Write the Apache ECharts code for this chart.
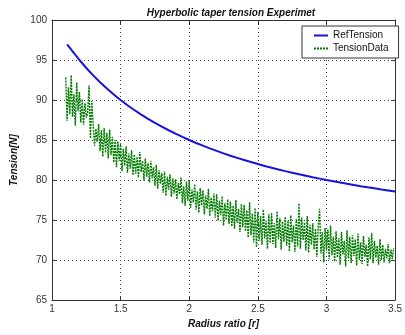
<!DOCTYPE html>
<html>
<head>
<meta charset="utf-8">
<script src="https://cdn.jsdelivr.net/npm/echarts@6/dist/echarts.min.js"></script>
<style>
html,body{margin:0;padding:0;background:#fff;}
#c{width:405px;height:335px;}
</style>
</head>
<body>
<div id="c"></div>
<script>
// Reference tension curve (radius ratio, tension)
var refR = [1.11,1.15,1.2,1.25,1.3,1.35,1.4,1.45,1.5,1.55,1.6,1.65,1.7,1.75,1.8,1.85,1.9,1.95,2.0,2.05,2.1,2.15,2.2,2.25,2.3,2.35,2.4,2.45,2.5,2.55,2.6,2.65,2.7,2.75,2.8,2.85,2.9,2.95,3.0,3.05,3.1,3.15,3.2,3.25,3.3,3.35,3.4,3.45,3.5];
var refT = [96.95,96.09,95.00,94.00,93.08,92.22,91.43,90.69,90.00,89.35,88.75,88.18,87.65,87.14,86.67,86.22,85.79,85.38,85.00,84.63,84.29,83.95,83.64,83.33,83.04,82.77,82.50,82.24,82.00,81.76,81.54,81.32,81.11,80.91,80.71,80.53,80.34,80.17,80.00,79.84,79.68,79.52,79.38,79.23,79.09,78.96,78.82,78.70,78.57];

// Measured tension, sampled every 0.01 in radius ratio from 1.10
var tensionStartR = 1.10;
var tensionStepR = 0.01;
var tensionData = [
92.8,87.4,91.6,88.2,93.1,87.9,90.7,86.8,92.2,88.6,
91.0,87.2,90.1,86.9,89.6,87.8,88.4,91.8,85.2,89.9,
86.9,84.3,86.4,84.8,87.0,83.6,86.2,82.9,86.5,83.4,
85.9,82.7,86.3,83.1,85.4,82.2,85.0,81.6,84.8,82.4,
84.6,81.1,83.9,81.8,84.2,80.9,83.3,81.4,83.7,80.6,
83.2,80.8,82.9,80.3,83.5,81.0,82.4,79.9,82.7,80.4,
82.1,79.7,82.4,80.2,81.6,79.3,81.9,78.9,81.2,79.5,
80.9,78.4,81.1,78.0,80.4,78.8,80.7,77.9,80.2,78.3,
80.1,77.6,79.6,78.2,80.3,77.1,79.2,76.8,79.8,77.4,
79.9,76.5,78.8,77.2,79.5,76.3,78.6,75.9,79.0,76.8,
78.7,75.7,78.1,76.4,78.9,75.5,77.8,76.1,78.3,75.3,
78.2,74.9,77.4,75.6,78.0,74.3,77.1,75.0,77.6,74.5,
77.3,74.2,76.8,73.9,77.5,74.6,76.4,73.5,77.0,74.1,
76.9,73.6,76.2,72.8,77.2,73.1,75.8,72.2,76.5,71.6,
76.0,72.4,75.5,71.9,76.3,72.7,74.9,71.4,75.7,72.1,
75.9,72.0,74.6,71.5,76.1,72.6,75.2,71.3,74.8,72.3,
75.4,71.8,74.9,71.1,75.6,72.2,74.3,71.0,75.1,71.7,
77.1,71.4,75.3,72.5,74.7,71.2,75.5,70.9,74.4,71.9,
74.6,71.3,73.9,70.4,74.2,76.4,70.8,73.5,69.7,74.0,
71.2,73.8,70.1,74.3,70.6,72.9,69.8,73.6,70.3,72.7,
69.4,73.5,70.7,72.4,69.2,73.7,70.2,72.9,69.6,73.1,
70.5,72.6,69.3,73.3,70.0,72.2,69.5,73.0,70.4,71.9,
69.2,72.8,70.1,73.4,69.6,72.4,70.3,71.8,69.4,72.6,
70.0,71.9,69.7,71.4,70.2,72.0,69.6,71.3,70.1,71.5
];

var xTicks = [1, 1.5, 2, 2.5, 3, 3.5];
var yTicks = [65, 70, 75, 80, 85, 90, 95, 100];

var refPairs = refR.map(function(r, i){ return [r, refT[i]]; });
var tensionPairs = tensionData.map(function(v, i){
  return [+(tensionStartR + i * tensionStepR).toFixed(3), v];
});

var font = 'Liberation Sans, Arial, sans-serif';
var frameColor = '#333';
var gridLine = {show:true, lineStyle:{color:'#444', type:[1,3], width:1}};
var green = '#007c00';
var blue = '#1414dc';

var chart = echarts.init(document.getElementById('c'), null, {renderer:'canvas'});
chart.setOption({
  backgroundColor:'#fff',
  animation:false,
  title:{
    text:'Hyperbolic taper tension Experimet',
    left:226, top:3, textAlign:'center',
    textStyle:{fontFamily:font, fontSize:10, fontWeight:'bold', fontStyle:'italic', color:'#111'}
  },
  legend:{
    orient:'vertical',
    left:302, top:26,
    padding:[4,10,4,11],
    itemGap:2,
    itemWidth:14, itemHeight:8,
    backgroundColor:'#fff',
    borderColor:'#333', borderWidth:1,
    itemStyle:{opacity:0},
    textStyle:{fontFamily:font, fontSize:10, color:'#111', lineHeight:11},
    data:['RefTension','TensionData']
  },
  grid:{left:52, right:3, top:20, bottom:35, containLabel:false},
  xAxis:[{
    type:'value', min:xTicks[0], max:xTicks[xTicks.length-1], interval:0.5,
    name:'Radius ratio [r]', nameLocation:'middle', nameGap:18,
    nameTextStyle:{fontFamily:font, fontSize:10, fontWeight:'bold', fontStyle:'italic', color:'#111'},
    axisLine:{show:true, lineStyle:{color:frameColor, width:1}},
    axisTick:{show:true, inside:true, length:4, lineStyle:{color:frameColor}},
    axisLabel:{fontFamily:font, fontSize:10, color:'#333', margin:4, showMaxLabel:true},
    splitLine:gridLine
  },{
    type:'value', position:'top', min:xTicks[0], max:xTicks[xTicks.length-1], interval:0.5,
    axisLine:{show:true, onZero:false, lineStyle:{color:frameColor, width:1}},
    axisTick:{show:true, inside:true, length:4, lineStyle:{color:frameColor}},
    axisLabel:{show:false}, splitLine:{show:false}
  }],
  yAxis:[{
    type:'value', min:yTicks[0], max:yTicks[yTicks.length-1], interval:5,
    name:'Tension[N]', nameLocation:'middle', nameGap:27,
    nameTextStyle:{fontFamily:font, fontSize:10, fontWeight:'bold', fontStyle:'italic', color:'#111'},
    axisLine:{show:true, lineStyle:{color:frameColor, width:1}},
    axisTick:{show:true, inside:true, length:4, lineStyle:{color:frameColor}},
    axisLabel:{fontFamily:font, fontSize:10, color:'#333', margin:5},
    splitLine:gridLine
  },{
    type:'value', position:'right', min:yTicks[0], max:yTicks[yTicks.length-1], interval:5,
    axisLine:{show:true, onZero:false, lineStyle:{color:frameColor, width:1}},
    axisTick:{show:true, inside:true, length:4, lineStyle:{color:frameColor}},
    axisLabel:{show:false}, splitLine:{show:false}
  }],
  series:[{
    name:'RefTension', type:'line', data:refPairs, smooth:false, symbol:'none',
    lineStyle:{color:blue, width:2}, itemStyle:{color:blue}, z:3
  },{
    name:'TensionData', type:'line', data:tensionPairs, symbol:'none',
    lineStyle:{color:green, width:1.4, type:[2,1]}, itemStyle:{color:green}, z:2
  }]
});
</script>
</body>
</html>
